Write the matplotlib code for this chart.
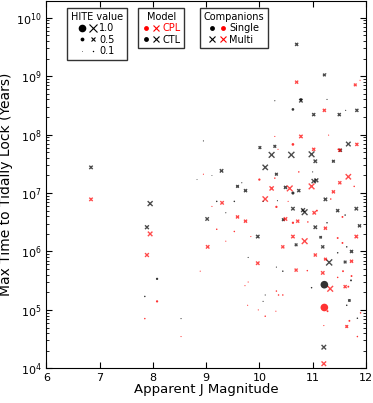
import matplotlib
matplotlib.use("Agg")
import matplotlib.pyplot as plt
from matplotlib.lines import Line2D
from matplotlib.legend_handler import HandlerTuple
import numpy as np

# CTL model, planets in multi-planet systems (black x)
ctl_multi_mag = [6.84, 7.95, 7.89, 10.70, 11.22, 10.78, 11.02, 11.50, 11.83, 10.01,
                 10.29, 11.67, 11.52, 10.23, 10.60, 10.98, 11.05, 11.39, 10.11, 9.29,
                 10.32, 11.02, 11.07, 9.59, 9.74, 10.49, 10.74, 11.24, 10.63, 10.85,
                 10.82, 11.47, 11.82, 9.02, 10.45, 11.05, 11.88, 9.97, 11.15, 10.69,
                 11.19, 11.73, 11.31, 11.61, 11.21, 11.69]
ctl_multi_time = [2.75e7, 6.6e6, 2.6e6, 3.5e9, 1.05e9, 3.8e8, 2.2e8, 2.2e8, 2.6e8, 6.0e7,
                  6.3e7, 6.9e7, 5.4e7, 4.5e7, 4.5e7, 4.6e7, 3.5e7, 3.5e7, 2.75e7, 2.4e7,
                  2.1e7, 1.6e7, 1.65e7, 1.3e7, 1.1e7, 1.25e7, 1.1e7, 7.8e6, 5.4e6, 4.7e6,
                  5.1e6, 5.0e6, 5.4e6, 3.6e6, 3.5e6, 2.6e6, 2.75e6, 1.8e6, 1.75e6, 1.3e6,
                  1.2e6, 1.0e6, 6.5e5, 6.6e5, 2.3e4, 1.45e5]
ctl_multi_hite = [0.45, 0.65, 0.5, 0.4, 0.35, 0.45, 0.4, 0.4, 0.4, 0.35,
                  0.35, 0.6, 0.4, 0.75, 0.8, 0.75, 0.45, 0.35, 0.7, 0.45,
                  0.35, 0.55, 0.5, 0.35, 0.4, 0.4, 0.4, 0.45, 0.45, 0.75,
                  0.5, 0.4, 0.45, 0.45, 0.35, 0.45, 0.4, 0.45, 0.3, 0.35,
                  0.4, 0.4, 0.8, 0.35, 0.6, 0.3]

# CPL model, multi-planet systems (red x)
cpl_multi_mag = [6.84, 7.95, 7.89, 10.70, 11.80, 11.22, 10.78, 11.02, 11.83, 11.51,
                 10.98, 11.67, 11.51, 10.23, 10.57, 11.39, 10.11, 9.30, 11.03, 9.59,
                 9.74, 10.49, 10.72, 11.24, 10.63, 10.85, 11.82, 9.03, 10.44, 11.05,
                 11.24, 9.97, 11.73, 10.69, 11.19, 11.33, 11.61, 11.64, 11.21]
cpl_multi_time = [7.8e6, 2.0e6, 8.7e5, 7.9e8, 7.1e8, 2.6e8, 9.3e7, 5.6e7, 6.8e7, 5.4e7,
                  1.3e7, 1.9e7, 1.5e7, 1.2e7, 1.2e7, 1.05e7, 7.9e6, 6.8e6, 4.6e6, 3.9e6,
                  3.3e6, 3.6e6, 3.3e6, 2.5e6, 1.8e6, 1.5e6, 1.8e6, 1.2e6, 1.2e6, 8.7e5,
                  7.4e5, 6.3e5, 6.8e5, 4.8e5, 4.3e5, 2.3e5, 2.5e5, 5.2e4, 1.2e4]
cpl_multi_hite = [0.45, 0.6, 0.5, 0.4, 0.35, 0.4, 0.45, 0.4, 0.4, 0.4,
                  0.75, 0.7, 0.4, 0.55, 0.75, 0.4, 0.7, 0.45, 0.45, 0.4,
                  0.4, 0.45, 0.4, 0.4, 0.45, 0.75, 0.45, 0.45, 0.4, 0.4,
                  0.35, 0.45, 0.4, 0.4, 0.45, 0.75, 0.4, 0.35, 0.6]

# CTL model, single-planet systems (black dots)
ctl_single_mag = [11.22, 10.63, 10.63, 8.08, 7.85, 10.78, 8.95, 10.29, 11.27, 11.62,
                  11.25, 9.20, 9.53, 10.07, 11.61, 11.27, 11.64, 11.47, 10.34, 9.67,
                  11.00, 10.44, 10.32, 10.98, 10.11, 10.07, 11.84, 11.64, 11.72, 8.83,
                  9.11, 9.37, 9.79, 8.53]
ctl_single_time = [2.7e5, 2.7e8, 1.0e7, 3.4e5, 1.7e5, 4.0e8, 7.8e7, 3.8e8, 4.0e8, 2.6e8,
                   1.1e9, 7.2e6, 7.2e6, 7.2e6, 4.2e6, 3.1e6, 1.2e6, 9.5e5, 7.4e6, 1.5e7,
                   2.3e7, 4.6e5, 5.4e5, 2.4e5, 1.8e5, 1.4e5, 7.2e4, 1.2e5, 3.2e5, 1.7e7,
                   2.0e7, 4.6e6, 7.9e5, 7.1e4]
ctl_single_hite = [1.0, 0.35, 0.4, 0.3, 0.2, 0.35, 0.15, 0.15, 0.15, 0.15,
                   0.12, 0.2, 0.2, 0.15, 0.2, 0.2, 0.2, 0.2, 0.15, 0.15,
                   0.15, 0.2, 0.15, 0.2, 0.15, 0.15, 0.2, 0.2, 0.25, 0.12,
                   0.12, 0.15, 0.15, 0.15]

# CPL model, single-planet systems (red dots)
cpl_single_mag = [11.22, 8.08, 7.85, 8.53, 10.63, 10.00, 10.32, 10.63, 11.56, 11.08,
                  11.47, 11.56, 11.57, 11.73, 11.47, 11.67, 10.32, 10.36, 10.44, 9.78,
                  11.28, 11.90, 10.31, 9.98, 10.11, 11.69, 11.21, 11.84, 8.89, 10.90,
                  8.95, 10.29, 10.74, 11.78, 9.20, 9.53, 9.84, 10.91, 10.54, 11.34,
                  10.29, 11.30, 10.35, 11.48, 9.11, 9.37, 9.79, 9.73, 11.89]
cpl_single_time = [1.1e5, 1.4e5, 7.1e4, 3.5e4, 6.8e7, 1.7e7, 5.8e6, 3.1e6, 3.9e6, 5.0e6,
                   1.7e6, 1.4e6, 4.6e5, 3.8e5, 3.6e5, 2.5e5, 2.1e5, 1.8e5, 1.8e5, 1.2e5,
                   9.5e4, 8.9e4, 9.5e4, 1.0e5, 7.8e4, 6.5e4, 5.4e4, 3.5e4, 4.6e5, 4.7e5,
                   2.1e7, 1.8e7, 2.3e7, 1.3e7, 2.4e6, 2.2e6, 1.8e6, 3.2e6, 7.2e6, 7.9e6,
                   9.3e7, 9.8e7, 5.6e7, 5.6e7, 5.9e6, 1.5e6, 3.0e5, 2.6e5, 8.5e8]
cpl_single_hite = [1.0, 0.3, 0.2, 0.15, 0.35, 0.3, 0.3, 0.3, 0.25, 0.25,
                   0.25, 0.25, 0.25, 0.25, 0.2, 0.25, 0.2, 0.2, 0.2, 0.15,
                   0.25, 0.2, 0.15, 0.15, 0.2, 0.25, 0.15, 0.2, 0.15, 0.2,
                   0.15, 0.2, 0.2, 0.2, 0.2, 0.2, 0.15, 0.2, 0.15, 0.2,
                   0.15, 0.15, 0.15, 0.2, 0.15, 0.15, 0.15, 0.15, 0.15]

legend_hite = [1.0, 0.5, 0.1]


def marker_area(hite):
    return (5.5 * np.asarray(hite)) ** 2


fig = plt.figure(figsize=(3.73, 4.03), dpi=100)
ax = fig.add_axes([0.124, 0.086, 0.857, 0.912])

ax.scatter(ctl_multi_mag, ctl_multi_time, s=marker_area(ctl_multi_hite), marker='x',
           color='k', alpha=0.7, linewidths=1)
ax.scatter(cpl_multi_mag, cpl_multi_time, s=marker_area(cpl_multi_hite), marker='x',
           color='r', alpha=0.7, linewidths=1)
ax.scatter(ctl_single_mag, ctl_single_time, s=marker_area(ctl_single_hite), marker='o',
           color='k', edgecolors='none', alpha=0.8)
ax.scatter(cpl_single_mag, cpl_single_time, s=marker_area(cpl_single_hite), marker='o',
           color='r', edgecolors='none', alpha=0.8)

ax.set_yscale('log')
ax.set_xlim(6, 12)
ax.set_ylim(1e4, 1.95e10)
ax.set_xlabel('Apparent J Magnitude', fontsize=9.5, labelpad=0)
ax.set_ylabel('Max Time to Tidally Lock (Years)', fontsize=10, labelpad=2)
ax.tick_params(which='both', direction='in', top=True, right=True, labelsize=8)
ax.tick_params(which='major', length=4)
ax.tick_params(which='minor', length=2)

leg_kw = dict(fontsize=7, title_fontsize=7, frameon=True, fancybox=False,
              edgecolor='k', handletextpad=0.3, borderpad=0.4, labelspacing=0.15,
              handlelength=1.8, borderaxespad=0)
for_tuple = {tuple: HandlerTuple(ndivide=None, pad=0.3)}

# HITE value legend
hite_handles = []
for h in legend_hite:
    ms = 5.5 * h
    hite_handles.append((Line2D([], [], ls='none', marker='o', color='k', ms=ms, mec='none'),
                         Line2D([], [], ls='none', marker='x', color='k', ms=ms, mew=0.8)))
leg1 = ax.legend(hite_handles, [f'{h:.1f}' for h in legend_hite], title='HITE value',
                 loc='upper left', bbox_to_anchor=(0.064, 0.981), handler_map=for_tuple, **leg_kw)
ax.add_artist(leg1)

# Model legend
model_handles = [(Line2D([], [], ls='none', marker='o', color='r', ms=3.5, mec='none'),
                  Line2D([], [], ls='none', marker='x', color='r', ms=4, mew=0.8)),
                 (Line2D([], [], ls='none', marker='o', color='k', ms=3.5, mec='none'),
                  Line2D([], [], ls='none', marker='x', color='k', ms=4, mew=0.8))]
leg2 = ax.legend(model_handles, ['CPL', 'CTL'], title='Model', loc='upper left',
                 bbox_to_anchor=(0.287, 0.981), handler_map=for_tuple, **leg_kw)
leg2.get_texts()[0].set_color('r')
ax.add_artist(leg2)

# Companions legend
comp_handles = [(Line2D([], [], ls='none', marker='o', color='k', ms=3.5, mec='none'),
                 Line2D([], [], ls='none', marker='o', color='r', ms=3.5, mec='none')),
                (Line2D([], [], ls='none', marker='x', color='k', ms=4, mew=0.8),
                 Line2D([], [], ls='none', marker='x', color='r', ms=4, mew=0.8))]
leg3 = ax.legend(comp_handles, ['Single', 'Multi'], title='Companions', loc='upper left',
                 bbox_to_anchor=(0.48, 0.981), handler_map=for_tuple, **leg_kw)

fig.savefig('out.png', dpi=100)
